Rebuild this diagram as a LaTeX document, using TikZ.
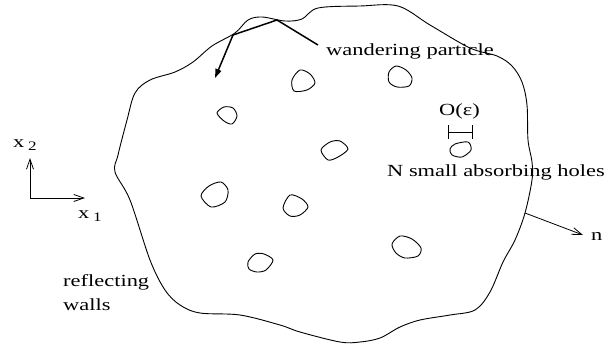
\documentclass[tikz,border=0pt]{standalone}
\usepackage{fontspec}
\setmainfont{Liberation Serif}
\usepackage{graphicx}
\usetikzlibrary{arrows.meta}
\newcommand\wide[1]{\scalebox{1.32}[1]{#1}}
\newcommand\subidx[1]{\raisebox{-3pt}{\fontsize{13}{13}\selectfont #1}}

\begin{document}
\begin{tikzpicture}[x=1pt,y=-1pt,
  wall/.style={line width=0.9pt, line join=round},
  hole/.style={line width=0.9pt},
  lbl/.style={inner sep=0pt, anchor=base west, font=\fontsize{17}{20}\selectfont},
  axis/.style={line width=0.8pt, -{Straight Barb[length=10pt,width=7pt]}},
  path/.style={line width=1.5pt, line join=miter},
  ]
\useasboundingbox (0,0) rectangle (607,343);

% domain boundary (reflecting walls)
\draw[wall] plot[smooth cycle, tension=0.55] coordinates {
  (115,172) (118,155) (127,120) (135,93) (150,80) (175,72) (193,62)
  (212,46) (235,33) (248,20) (262,17) (285,21) (302,19) (318,8)
  (360,6) (398,6) (430,25) (470,48) (497,56) (512,66) (522,82)
  (527,105) (528,140) (532,162) (532,180) (525,213) (515,240)
  (503,262) (490,292) (475,310) (450,315) (420,320) (400,327)
  (380,338) (360,342) (340,342) (300,332) (280,325) (240,315)
  (200,313) (180,305) (165,290) (150,260) (130,200)};

% small absorbing holes
\draw[hole] plot[smooth cycle] coordinates {(300,70) (310,74) (315,83) (307,90) (294,91) (292,80)};
\draw[hole] plot[smooth cycle] coordinates {(396,66) (406,70) (412,78) (409,86) (397,87) (389,82) (389,72)};
\draw[hole] plot[smooth cycle] coordinates {(217,113) (224,107) (233,108) (237,116) (232,124) (224,121)};
\draw[hole] plot[smooth cycle] coordinates {(321,150) (330,142) (340,141) (348,149) (338,157) (328,160)};
\draw[hole] plot[smooth cycle] coordinates {(201,196) (209,186) (221,182) (228,190) (225,202) (211,207)};
\draw[hole] plot[smooth cycle] coordinates {(290,195) (302,199) (308,207) (300,215) (290,216) (283,208)};
\draw[hole] plot[smooth cycle] coordinates {(248,262) (255,254) (264,254) (273,260) (266,270) (257,272) (249,269)};
\draw[hole] plot[smooth cycle] coordinates {(392,244) (400,236) (412,239) (421,248) (418,256) (405,258) (396,253)};
\draw[hole] plot[smooth cycle] coordinates {(455,144) (468,142) (471,150) (462,157) (452,155) (450,149)};

% wandering particle trajectory
\coordinate (p0) at (318,45);
\coordinate (p1) at (277,20);
\coordinate (p2) at (233,35);
\coordinate (p3) at (215,78);
\draw[path, -{Triangle[length=9pt,width=6pt]}] (p0) -- (p1) -- (p2) -- (p3);
\node[lbl] (wp) at (326,55) {\wide{wandering particle}};

% hole size marker
\coordinate (bl) at (448,132);
\coordinate (br) at (472,132);
\draw[line width=0.9pt] (bl) -- (br)
  ([yshift=-7pt]bl) -- ([yshift=7pt]bl)
  ([yshift=-7pt]br) -- ([yshift=7pt]br);
\node[lbl] (eps) at (439,115) {\wide{O(ε)}};
\node[lbl] (holes) at (387,176) {\wide{N small absorbing holes}};

% coordinate axes
\coordinate (o) at (30,198);
\coordinate (e1) at (85,198);
\coordinate (e2) at (30,158);
\draw[axis] (o) -- (e1);
\draw[axis] (o) -- (e2);
\node[lbl] (x2) at (13,147) {\wide{x\,\subidx{2}}};
\node[lbl] (x1) at (78,218) {\wide{x\,\subidx{1}}};

% outward normal
\coordinate (ns) at (525,213);
\coordinate (ne) at (583,235);
\draw[axis] (ns) -- (ne);
\node[lbl] (n) at (591,240) {\wide{n}};

% wall label
\node[lbl] (rw1) at (63,286) {\wide{reflecting}};
\node[lbl] (rw2) at (63,310) {\wide{walls}};
\end{tikzpicture}
\end{document}
